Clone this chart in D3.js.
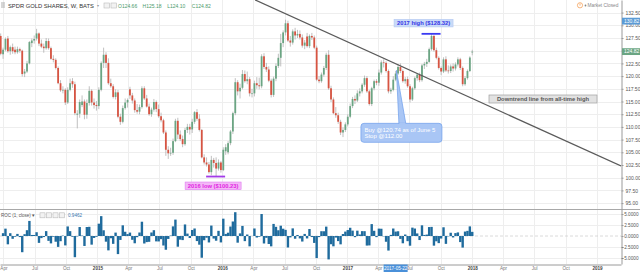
<!DOCTYPE html>
<html>
<head>
<meta charset="utf-8">
<script src="https://d3js.org/d3.v7.min.js"></script>
<style>
  body { margin: 0; background: #fff; }
  svg { display: block; font-family: "Liberation Sans", Arial, sans-serif; }
</style>
</head>
<body>
<svg id="chart" width="640" height="272"></svg>
<script>
'use strict';

// weekly bars, first one starts on this monday
const firstWeek = "2014-03-24";

const opens = [
  127.9,124.3,125.2,127.4,124.9,125.7,125.2,124.7,125.3,125.0,
  120.5,120.9,122.5,126.5,127.0,127.4,128.4,126.4,125.8,125.5,
  126.9,125.5,123.4,123.2,121.6,118.6,117.2,117.3,114.8,117.3,
  119.0,118.4,112.4,112.6,114.3,115.0,112.4,114.7,117.1,114.8,
  114.3,114.1,117.3,122.6,124.2,122.6,118.6,118.0,115.9,116.8,
  112.0,111.0,113.7,114.8,117.4,116.2,115.2,113.3,113.0,113.9,
  117.6,115.6,114.0,112.5,113.4,114.9,113.5,112.1,111.3,108.9,
  105.5,104.8,104.9,107.2,111.2,108.5,107.6,106.6,109.4,110.0,
  109.5,111.0,112.9,111.6,109.4,104.0,103.0,102.6,101.1,103.5,
  102.9,101.8,103.0,101.5,105.2,105.0,106.8,109.1,112.7,118.8,
  117.0,117.7,120.4,119.0,119.4,116.6,116.6,118.6,118.2,118.0,
  123.9,121.8,121.3,119.1,116.3,119.5,122.0,123.6,126.5,128.6,
  130.4,127.0,126.6,128.8,128.0,128.3,127.6,126.0,127.8,125.9,
  127.9,127.6,125.6,119.3,119.0,120.3,121.6,124.2,117.6,115.4,
  112.7,112.3,111.0,108.9,109.4,110.5,112.0,114.1,115.5,115.2,
  116.6,117.0,118.3,119.6,117.0,114.5,117.6,119.0,118.7,120.7,
  122.7,122.6,121.0,117.0,117.3,119.3,120.5,121.8,121.0,119.0,
  119.4,118.0,115.4,117.6,119.6,120.3,119.2,122.1,122.4,122.8,
  125.3,127.9,125.1,123.6,121.6,120.9,123.3,121.1,121.0,121.9,
  121.5,122.3,123.3,121.6,118.4,119.6,121.0,124.66
];
const highs = [
  128.4,125.6,127.6,127.9,126.0,126.4,125.8,125.8,125.6,125.2,
  121.4,123.0,126.9,127.4,128.0,129.3,128.6,127.2,126.4,127.5,
  127.4,125.8,124.1,123.5,121.9,119.2,118.0,117.6,117.8,119.5,
  119.6,118.9,113.3,115.4,116.2,115.4,115.4,118.0,117.4,115.6,
  115.1,117.8,122.9,125.6,124.7,123.5,119.5,118.4,117.4,117.3,
  112.6,114.2,115.6,115.6,117.9,116.7,115.6,114.5,114.4,118.0,
  118.0,116.3,114.6,113.8,115.5,115.2,114.4,112.8,111.6,109.3,
  106.2,105.9,107.7,111.6,111.8,109.3,108.3,109.8,110.6,110.6,
  111.6,113.1,113.5,112.5,109.6,104.6,104.0,103.1,104.3,103.9,
  104.0,103.6,103.3,106.0,106.6,107.2,109.4,113.0,119.6,119.2,
  118.5,121.2,121.1,120.9,119.8,117.5,119.1,119.8,119.7,124.3,
  124.5,122.6,121.9,119.5,119.9,122.5,124.4,128.3,129.0,131.1,
  130.9,127.9,129.2,129.5,129.1,129.0,128.2,127.1,128.5,128.2,
  128.5,128.0,126.0,120.0,120.7,122.0,124.6,125.1,118.1,115.8,
  113.9,112.8,111.4,109.9,110.9,112.5,114.6,115.9,116.2,117.2,
  117.6,118.6,120.1,120.0,117.3,117.9,119.3,119.4,121.3,123.1,
  123.3,122.9,121.3,117.7,120.0,121.0,122.4,122.5,121.3,119.8,
  119.9,118.4,117.9,119.9,120.6,120.7,122.4,122.8,123.4,125.6,
  128.32,128.1,125.6,123.9,121.9,123.7,123.9,122.1,122.3,122.5,
  122.7,123.7,123.6,121.9,120.0,121.3,123.9,125.18
];
const lows = [
  124.1,123.4,124.9,124.6,124.2,124.4,124.3,124.4,124.6,119.9,
  119.8,120.6,122.3,125.7,126.4,127.0,125.9,125.5,124.6,125.2,
  125.2,123.2,122.7,121.3,118.4,116.9,116.6,114.3,114.5,117.0,
  117.7,112.3,109.7,111.8,113.9,111.5,111.6,114.2,114.2,113.6,
  113.2,113.5,117.0,121.6,121.6,118.3,117.7,115.6,115.4,111.7,
  110.4,110.7,113.4,113.8,115.5,114.6,112.8,112.6,112.5,113.6,
  115.3,113.8,112.2,112.0,113.0,112.9,111.8,110.9,108.6,104.3,
  103.7,104.3,104.5,107.0,107.6,107.2,106.0,106.3,108.8,108.5,
  108.8,110.6,111.2,109.1,103.8,102.6,102.2,100.8,100.5,102.0,
  100.23,101.4,101.0,101.3,104.5,104.6,106.4,108.6,112.3,116.2,
  115.6,117.4,118.7,118.4,116.0,115.8,116.0,117.5,117.4,117.6,
  121.4,120.8,118.8,115.8,115.9,119.0,121.6,121.9,125.7,128.0,
  126.7,125.8,126.2,127.2,127.5,127.2,125.6,125.3,125.6,125.5,
  127.1,125.3,119.0,118.6,118.7,119.9,121.2,117.3,114.9,112.5,
  111.8,110.6,108.4,108.0,109.0,110.1,111.7,113.7,114.5,114.9,
  116.0,116.6,117.9,116.7,114.2,114.1,117.2,118.2,118.1,120.3,
  121.7,120.7,116.6,116.5,117.0,119.0,120.2,120.6,118.7,118.5,
  117.7,114.8,115.1,117.3,119.1,118.8,118.9,121.4,121.8,122.6,
  125.0,124.8,123.3,121.3,120.2,120.6,120.8,120.5,120.6,120.9,
  121.1,121.9,121.2,118.0,118.1,119.3,120.8,124.10
];
const closes = [
  124.4,125.2,127.3,124.9,125.7,124.9,124.7,125.3,125.0,120.4,
  120.9,122.5,126.7,127.0,127.3,128.4,126.4,125.8,125.5,126.9,
  125.5,123.4,123.2,121.6,118.6,117.2,117.3,114.8,117.3,118.6,
  118.4,112.7,112.6,114.9,115.0,112.4,114.7,117.1,114.8,114.3,
  114.1,117.3,122.6,124.2,122.6,118.6,118.0,115.9,116.8,112.0,
  111.0,113.7,114.8,115.3,116.2,115.2,113.3,113.0,113.9,117.6,
  115.6,114.0,112.5,113.4,114.9,113.5,112.1,111.3,108.9,105.5,
  104.8,104.9,107.2,111.2,108.5,107.6,106.6,109.4,110.0,109.5,
  111.0,112.9,111.6,109.4,104.0,103.0,102.6,101.1,103.5,102.9,
  101.8,103.0,101.5,105.5,106.0,106.8,109.1,112.7,118.8,117.0,
  117.7,120.4,119.0,119.4,116.6,116.6,118.6,118.2,118.0,123.9,
  121.8,121.3,119.1,116.3,119.5,122.0,123.6,126.5,128.6,130.4,
  127.0,126.6,128.8,128.0,128.3,127.6,126.0,126.6,125.9,127.9,
  127.6,125.6,119.3,119.0,120.3,121.6,124.2,117.6,115.4,112.7,
  112.3,111.0,108.9,109.4,110.5,112.0,114.1,115.5,115.2,116.6,
  117.0,118.3,119.6,117.0,114.5,117.6,119.0,118.7,120.7,122.7,
  122.6,121.0,117.0,117.3,119.3,120.5,121.8,121.0,119.0,119.4,
  118.0,115.4,117.6,119.6,120.3,119.2,122.1,122.4,122.8,125.3,
  127.9,125.1,123.6,121.6,120.9,123.3,121.1,121.0,121.9,121.5,
  122.3,123.3,121.6,118.4,119.6,121.0,123.65,124.82
];

const priceTicks = [95, 97.5, 100, 102.5, 105, 107.5, 110, 112.5, 115, 117.5, 120, 122.5, 125, 127.5, 130, 132.5];
const rocTicks = [-5, -2.5, 0, 2.5, 5];
const timeDomain = ["2014-03-22", "2019-03-12"];

// drawings on the chart
const trendDates = ["2016-04-06", "2019-03-12"];
const trendPrices = [135.0, 102.3];
const markDates = ["2017-09-04", "2015-12-14"];
const markPrices = [128.32, 100.23];
const markLabels = ["2017 high ($128.32)", "2016 low ($100.23)"];
const calloutDate = "2017-06-05";
const calloutPrice = 120.74;
const calloutLines = ["Buy @120.74 as of June 5", "Stop @112.00"];
const trendLabel = "Downtrend line from all-time high";
const bluePrice = 130.82;
const cursorDate = "2017-05-22";

const W = 640, PLOT_R = 621, P_TOP = 0, P_BOT = 209, R_BOT = 264;
const GREEN = "#6ba583", RED = "#d75442", ROC_BLUE = "#1f6b9d";

const parse = d3.timeParse("%Y-%m-%d");
const start = parse(firstWeek);
const dates = closes.map((_, i) => d3.timeDay.offset(start, 7 * i));
const roc = closes.map((c, i) => i === 0 ? null : (c / closes[i - 1] - 1) * 100);

const x = d3.scaleTime().domain(timeDomain.map(parse)).range([0, PLOT_R]);
const yP = d3.scaleLinear().domain([93.84, 134.98]).range([P_BOT, P_TOP]);
const yR = d3.scaleLinear().domain([-6.36, 6.14]).range([R_BOT, P_BOT]);

const svg = d3.select("#chart");
svg.append("rect").attr("width", W).attr("height", 272).attr("fill", "#fff");

svg.append("defs").append("clipPath").attr("id", "pclip")
  .append("rect").attr("x", 0).attr("y", P_TOP).attr("width", PLOT_R).attr("height", P_BOT - P_TOP);

// grid
const quarters = x.ticks(d3.timeMonth.every(3));
const grid = svg.append("g").attr("stroke", "#eeeeee").attr("stroke-width", 1);
grid.selectAll("line.v").data(quarters).join("line")
  .attr("x1", d => Math.round(x(d)) + 0.5).attr("x2", d => Math.round(x(d)) + 0.5)
  .attr("y1", 0).attr("y2", R_BOT);
grid.selectAll("line.h").data(priceTicks).join("line")
  .attr("x1", 0).attr("x2", PLOT_R)
  .attr("y1", d => Math.round(yP(d)) + 0.5).attr("y2", d => Math.round(yP(d)) + 0.5);
grid.selectAll("line.r").data(rocTicks.filter(d => d !== 0)).join("line")
  .attr("x1", 0).attr("x2", PLOT_R)
  .attr("y1", d => Math.round(yR(d)) + 0.5).attr("y2", d => Math.round(yR(d)) + 0.5);

// candles
const candles = svg.append("g").attr("clip-path", "url(#pclip)");
candles.selectAll("line").data(dates).join("line")
  .attr("x1", d => x(d)).attr("x2", d => x(d))
  .attr("y1", (d, i) => yP(highs[i])).attr("y2", (d, i) => yP(lows[i]))
  .attr("stroke", "#b0b0b0").attr("stroke-width", 0.8);
candles.selectAll("rect").data(dates).join("rect")
  .attr("x", d => x(d) - 0.9).attr("width", 1.8)
  .attr("y", (d, i) => yP(Math.max(opens[i], closes[i])))
  .attr("height", (d, i) => Math.max(0.7, Math.abs(yP(opens[i]) - yP(closes[i]))))
  .attr("fill", (d, i) => closes[i] >= opens[i] ? GREEN : RED);

// downtrend line
svg.append("g").attr("clip-path", "url(#pclip)").append("line")
  .attr("x1", x(parse(trendDates[0]))).attr("y1", yP(trendPrices[0]))
  .attr("x2", x(parse(trendDates[1]))).attr("y2", yP(trendPrices[1]))
  .attr("stroke", "#5a5a5a").attr("stroke-width", 1.2);

// high / low marks
const markStyle = [
  { line: "#3a3af2", fill: "#c9daf8", stroke: "#b4c9f2", text: "#3434e6", dx: -8, boxW: 59, dy: -11 },
  { line: "#a23be8", fill: "#f3b8f7", stroke: "#e07cf0", text: "#e21fe2", dx: -3, boxW: 56, dy: 5.5 }
];
markDates.forEach((ds, k) => {
  const cx = x(parse(ds)), cy = yP(markPrices[k]), s = markStyle[k];
  svg.append("line").attr("x1", cx - 10).attr("x2", cx + 9).attr("y1", cy).attr("y2", cy)
    .attr("stroke", s.line).attr("stroke-width", 1.8);
  const bx = cx + s.dx, by = cy + s.dy + (s.dy < 0 ? -3.5 : 0);
  svg.append("rect").attr("x", bx - s.boxW / 2).attr("y", by).attr("width", s.boxW).attr("height", 7.6)
    .attr("fill", s.fill).attr("stroke", s.stroke).attr("stroke-width", 0.6);
  svg.append("text").attr("x", bx).attr("y", by + 5.8).attr("text-anchor", "middle")
    .attr("font-size", 5.8).attr("font-weight", "bold").attr("fill", s.text).text(markLabels[k]);
});

// trend label
svg.append("rect").attr("x", 489).attr("y", 95).attr("width", 108).attr("height", 8)
  .attr("fill", "#e2e2e2").attr("stroke", "#a0a0a0").attr("stroke-width", 0.7);
svg.append("text").attr("x", 543).attr("y", 101.2).attr("text-anchor", "middle")
  .attr("font-size", 5.8).attr("font-weight", "bold").attr("fill", "#555").text(trendLabel);

// callout
const ax = x(parse(calloutDate)) - 4, ay = yP(calloutPrice) - 2;
const call = svg.append("g");
call.append("path")
  .attr("d", `M${ax},${ay} L${ax + 2.5},${ay + 54} L${ax + 9.5},${ay + 54} Z`)
  .attr("fill", "#a9c6f5").attr("stroke", "#6d9eeb").attr("stroke-width", 0.7);
call.append("rect").attr("x", ax - 35.5).attr("y", ay + 53).attr("width", 81).attr("height", 19).attr("rx", 3)
  .attr("fill", "#a9c6f5").attr("stroke", "#6d9eeb").attr("stroke-width", 0.7);
call.append("path")
  .attr("d", `M${ax + 2.9},${ay + 53.2} L${ax + 9.1},${ay + 53.2}`)
  .attr("stroke", "#a9c6f5").attr("stroke-width", 1);
call.selectAll("text").data(calloutLines).join("text")
  .attr("x", ax - 32).attr("y", (d, i) => ay + 61.5 + i * 6)
  .attr("font-size", 6).attr("fill", "#fff").text(d => d);

// roc histogram
svg.append("line").attr("x1", 0).attr("x2", PLOT_R).attr("y1", yR(0)).attr("y2", yR(0))
  .attr("stroke", "#d0d0d0").attr("stroke-width", 0.8).attr("stroke-dasharray", "3,2");
svg.append("g").selectAll("rect").data(dates.slice(1)).join("rect")
  .attr("x", d => x(d) - 1.2).attr("width", 2.4)
  .attr("y", (d, i) => yR(Math.max(0, roc[i + 1])))
  .attr("height", (d, i) => Math.abs(yR(roc[i + 1]) - yR(0)))
  .attr("fill", ROC_BLUE);

// panel borders
svg.append("line").attr("x1", 0).attr("x2", W).attr("y1", P_BOT + 0.5).attr("y2", P_BOT + 0.5)
  .attr("stroke", "#a8a8a8");

// axes
function styleAxis(g, size) {
  g.select(".domain").attr("stroke", "#9a9a9a");
  g.selectAll(".tick line").attr("stroke", "#9a9a9a");
  g.selectAll(".tick text").attr("font-size", size).attr("fill", "#555")
    .attr("font-family", "'Liberation Sans', Arial, sans-serif");
}
svg.append("g").attr("transform", `translate(${PLOT_R + 0.5},0)`)
  .call(d3.axisRight(yP).tickValues(priceTicks).tickFormat(d3.format(".2f")).tickSize(2).tickSizeOuter(0).tickPadding(2))
  .call(g => styleAxis(g, 5));
// roc labels are right aligned so the minus sign fits
svg.append("g").attr("transform", `translate(${PLOT_R + 0.5},0)`)
  .call(d3.axisRight(yR).tickValues(rocTicks).tickFormat(d3.format(".4f")).tickSize(2).tickSizeOuter(0).tickPadding(2))
  .call(g => styleAxis(g, 4.7))
  .call(g => g.selectAll(".tick text").attr("text-anchor", "end").attr("x", 638 - PLOT_R));
const fmtMonth = d3.timeFormat("%b");
svg.append("g").attr("transform", `translate(0,${R_BOT + 0.5})`)
  .call(d3.axisBottom(x).tickValues(quarters)
    .tickFormat(d => d.getMonth() === 0 ? d.getFullYear() : fmtMonth(d))
    .tickSize(0).tickSizeOuter(0).tickPadding(2.5))
  .call(g => styleAxis(g, 4.6))
  .call(g => g.selectAll(".tick text")
    .attr("font-weight", d => d.getMonth() === 0 ? "bold" : "normal")
    .attr("fill", d => d.getMonth() === 0 ? "#444" : "#777"));

// price flags on the right axis
const last = closes.length - 1;
[[bluePrice, "#5b9bd5"], [closes[last], GREEN]].forEach(([p, c]) => {
  svg.append("rect").attr("x", PLOT_R + 1).attr("y", yP(p) - 3.4).attr("width", 18).attr("height", 6.8).attr("fill", c);
  svg.append("text").attr("x", PLOT_R + 3).attr("y", yP(p) + 1.8).attr("font-size", 5)
    .attr("fill", "#fff").text(d3.format(".2f")(p));
});

// cursor date flag
const cdx = x(parse(cursorDate));
svg.append("rect").attr("x", cdx - 12).attr("y", R_BOT + 0.5).attr("width", 24).attr("height", 7.5).attr("fill", "#4a90d9");
svg.append("text").attr("x", cdx).attr("y", R_BOT + 6).attr("text-anchor", "middle")
  .attr("font-size", 4.6).attr("fill", "#fff").text(cursorDate);

// header
const head = svg.append("g");
[2.5, 4.5, 6.5].forEach(yy => head.append("line").attr("x1", 1).attr("x2", 5).attr("y1", yy + 0.5).attr("y2", yy + 0.5)
  .attr("stroke", "#9a9a9a").attr("stroke-width", 0.8));
head.append("text").attr("x", 8).attr("y", 7.8).attr("font-size", 5.8).attr("fill", "#333")
  .text("SPDR GOLD SHARES, W, BATS");
head.append("text").attr("x", 97).attr("y", 7.4).attr("font-size", 4).attr("fill", "#999").text("▾");
[104, 111].forEach(bx => head.append("rect").attr("x", bx).attr("y", 3).attr("width", 5.5).attr("height", 5)
  .attr("fill", "#f2f2f2").attr("stroke", "#bbb").attr("stroke-width", 0.6));
const fmt2 = d3.format(".2f");
const ohlc = [["O", opens[last]], ["H", highs[last]], ["L", lows[last]], ["C", closes[last]]];
head.selectAll("text.ohlc").data(ohlc).join("text").attr("class", "ohlc")
  .attr("x", (d, i) => 118 + i * 24.6).attr("y", 7.6).attr("font-size", 5).attr("fill", "#4c9a6b")
  .text(d => d[0] + fmt2(d[1]));
head.append("circle").attr("cx", 580).attr("cy", 5.3).attr("r", 2.6)
  .attr("fill", "none").attr("stroke", "#f5a25c").attr("stroke-width", 0.8);
head.append("line").attr("x1", 580).attr("x2", 580).attr("y1", 3.6).attr("y2", 5.6)
  .attr("stroke", "#f5a25c").attr("stroke-width", 0.8);
head.append("circle").attr("cx", 585.5).attr("cy", 5.5).attr("r", 0.9).attr("fill", "#888");
head.append("text").attr("x", 587.5).attr("y", 7.2).attr("font-size", 4.8).attr("fill", "#888").text("Market Closed");

// roc header
const rh = svg.append("g");
rh.append("text").attr("x", 1).attr("y", 217.2).attr("font-size", 4.5).attr("fill", "#555").text("ROC (1, close) ▾");
[40, 46.5, 53, 59.5].forEach(bx => rh.append("rect").attr("x", bx).attr("y", 212.8).attr("width", 5).attr("height", 5)
  .attr("fill", "#f2f2f2").attr("stroke", "#bbb").attr("stroke-width", 0.6));
rh.append("text").attr("x", 68).attr("y", 217.2).attr("font-size", 4.6).attr("fill", "#3b78b0")
  .text(d3.format(".4f")(roc[last]));
</script>
</body>
</html>
